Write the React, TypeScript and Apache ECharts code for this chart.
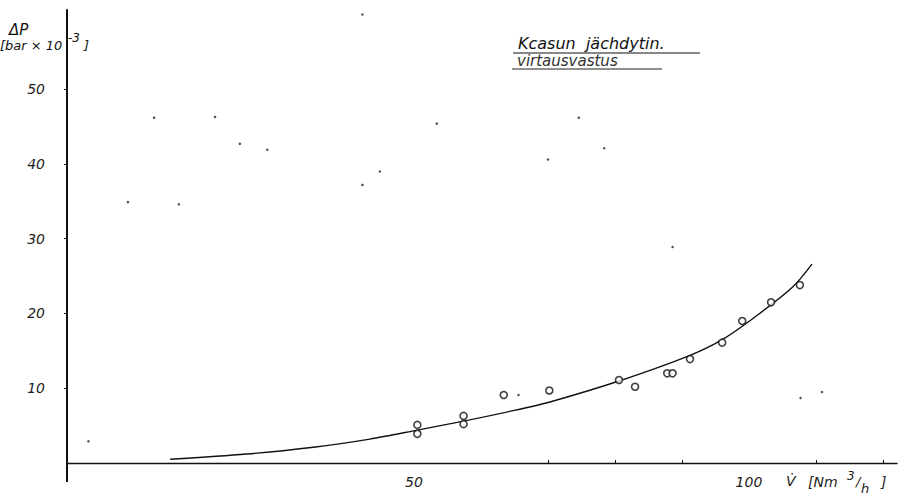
import React, { useEffect, useRef } from "react";
import * as echarts from "echarts";

const measuredV = [50.5, 50.5, 57.4, 57.4, 63.4, 70.2, 80.6, 83.0, 87.8, 88.6, 91.2, 96.0, 99.0, 103.3, 107.6];
const measuredP = [5.1, 3.9, 6.3, 5.2, 9.1, 9.7, 11.1, 10.2, 12.0, 12.0, 13.9, 16.1, 19.0, 21.5, 23.8];

const curveV = [13.6, 25.0, 35.0, 43.4, 50.5, 57.4, 64.8, 70.8, 80.7, 91.2, 96.2, 101.6, 106.6, 109.4];
const curveP = [0.5, 1.2, 2.1, 3.2, 4.4, 5.6, 7.0, 8.3, 11.0, 14.4, 16.6, 20.0, 23.6, 26.6];

const speckV = [42.3, 11.2, 20.3, 24.0, 28.1, 53.4, 44.9, 42.3, 7.3, 14.9, 74.6, 78.4, 70.0, 88.6, 65.6, 107.7, 110.9, 1.4];
const speckP = [60.0, 46.2, 46.3, 42.7, 41.9, 45.4, 39.0, 37.2, 34.9, 34.6, 46.2, 42.1, 40.6, 28.9, 9.1, 8.7, 9.5, 2.9];

const yTicks = [10, 20, 30, 40, 50];
const xTicks = [70, 80, 90, 110, 120];
const xLabels = [50, 100];

const titleLine1 = "Kcasun  jächdytin.";
const titleLine2 = "virtausvastus";

const INK = "#111";
const FONT = "DejaVu Sans";

export default function App() {
  const ref = useRef<HTMLDivElement>(null);
  useEffect(() => {
    document.body.style.margin = "0";
    const chart = echarts.init(ref.current!, null, { renderer: "svg" });
    const zip = (a: number[], b: number[]) => a.map((v, i) => [v, b[i]]);
    chart.setOption({
      animation: false,
      backgroundColor: "#fff",
      grid: { left: 67, right: 8, top: 10, bottom: 38, containLabel: false, outerBoundsMode: "none" },
      xAxis: {
        type: "value",
        min: -1.8,
        max: 122.1,
        splitLine: { show: false },
        axisLine: { onZero: true, lineStyle: { color: INK, width: 1.3 } },
        axisTick: { show: true, inside: true, length: 3, customValues: xTicks, lineStyle: { color: INK } },
        axisLabel: {
          customValues: xLabels,
          margin: 12,
          fontFamily: FONT,
          fontStyle: "italic",
          fontSize: 14,
          color: "#222",
        },
      },
      yAxis: {
        type: "value",
        min: 0,
        max: 60.6,
        splitLine: { show: false },
        axisLine: { onZero: false, lineStyle: { color: INK, width: 2 } },
        axisTick: { show: true, length: 3, customValues: yTicks, lineStyle: { color: INK } },
        axisLabel: {
          customValues: yTicks,
          margin: 22,
          fontFamily: FONT,
          fontStyle: "italic",
          fontSize: 14,
          color: "#222",
        },
      },
      series: [
        {
          type: "line",
          data: zip(curveV, curveP),
          smooth: 0.3,
          symbol: "none",
          lineStyle: { color: INK, width: 1.4 },
          z: 2,
        },
        {
          type: "scatter",
          data: zip(measuredV, measuredP),
          symbol: "circle",
          symbolSize: 7,
          itemStyle: { color: "#fff", borderColor: INK, borderWidth: 1.6 },
          z: 3,
        },
        {
          type: "scatter",
          data: zip(speckV, speckP),
          symbol: "circle",
          symbolSize: 2.5,
          itemStyle: { color: "#222" },
          z: 1,
        },
      ],
      graphic: [
        { type: "line", shape: { x1: 67, y1: 462, x2: 67, y2: 482 }, style: { stroke: INK, lineWidth: 2 } },
        {
          type: "text",
          x: 9,
          y: 22,
          style: { text: "ΔP", font: `italic 15px "${FONT}"`, fill: "#111" },
        },
        {
          type: "text",
          x: 0,
          y: 39,
          style: { text: "[bar × 10", font: `italic 13px "${FONT}"`, fill: "#111" },
        },
        {
          type: "text",
          x: 68,
          y: 32,
          style: { text: "-3", font: `italic 12px "${FONT}"`, fill: "#111" },
        },
        {
          type: "text",
          x: 84,
          y: 39,
          style: { text: "]", font: `italic 13px "${FONT}"`, fill: "#111" },
        },
        {
          type: "text",
          x: 518,
          y: 35,
          style: { text: titleLine1, font: `italic 16px "${FONT}"`, fill: "#111" },
        },
        {
          type: "text",
          x: 517,
          y: 53,
          style: { text: titleLine2, font: `italic 15px "${FONT}"`, fill: "#333" },
        },
        { type: "line", shape: { x1: 513, y1: 53, x2: 700, y2: 53 }, style: { stroke: "#111", lineWidth: 1.2 } },
        { type: "line", shape: { x1: 512, y1: 69, x2: 662, y2: 69 }, style: { stroke: "#222", lineWidth: 1.2 } },
        {
          type: "text",
          x: 786,
          y: 474,
          style: { text: "V\u0307", font: `italic 14px "${FONT}"`, fill: "#222" },
        },
        {
          type: "text",
          x: 808,
          y: 475,
          style: { text: "[Nm", font: `italic 14px "${FONT}"`, fill: "#222" },
        },
        {
          type: "text",
          x: 847,
          y: 470,
          style: { text: "3", font: `italic 12px "${FONT}"`, fill: "#222" },
        },
        {
          type: "text",
          x: 856,
          y: 475,
          style: { text: "/", font: `italic 13px "${FONT}"`, fill: "#222" },
        },
        {
          type: "text",
          x: 861,
          y: 482,
          style: { text: "h", font: `italic 13px "${FONT}"`, fill: "#222" },
        },
        {
          type: "text",
          x: 881,
          y: 475,
          style: { text: "]", font: `italic 14px "${FONT}"`, fill: "#222" },
        },
      ],
    });
    return () => chart.dispose();
  }, []);
  return <div ref={ref} style={{ position: "fixed", left: 0, top: 0, width: 905, height: 501 }} />;
}
